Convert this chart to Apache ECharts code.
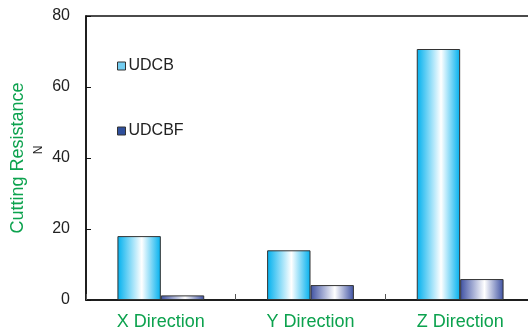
<!DOCTYPE html>
<html>
<head>
<meta charset="utf-8">
<script src="https://cdn.jsdelivr.net/npm/echarts@6/dist/echarts.min.js"></script>
<style>
  html, body { margin: 0; padding: 0; background: #fff; }
  #chart { width: 528px; height: 331px; }
</style>
</head>
<body>
<div id="chart"></div>
<script>
// Cutting resistance (N) per machining direction
const categories = ['X Direction', 'Y Direction', 'Z Direction'];
const seriesNames = ['UDCB', 'UDCBF'];
const udcbValues = [18, 14, 70.7];
const udcbfValues = [1.3, 4.2, 5.9];
const yTicks = [0, 20, 40, 60, 80];

const FONT = '"Liberation Sans", Arial, Helvetica, sans-serif';
const GREEN = '#0ca24e';

function sideGradient(edge) {
  return new echarts.graphic.LinearGradient(0, 0, 1, 0, [
    { offset: 0, color: edge },
    { offset: 0.56, color: '#ffffff' },
    { offset: 1, color: edge }
  ]);
}

const chart = echarts.init(document.getElementById('chart'), null, { renderer: 'canvas' });

chart.setOption({
  animation: false,
  backgroundColor: '#ffffff',
  textStyle: { fontFamily: FONT },
  grid: {
    left: 86, top: 16, bottom: 31, right: -7,
    outerBoundsMode: 'none',
    containLabel: false,
    show: true, borderColor: '#111', borderWidth: 1.5, backgroundColor: 'transparent'
  },
  legend: {
    orient: 'vertical',
    left: 112, top: 53,
    itemWidth: 8, itemHeight: 8, itemGap: 49,
    icon: 'rect',
    textStyle: { fontFamily: FONT, fontSize: 16, color: '#222', padding: [0, 0, 0, -2] },
    data: [
      { name: seriesNames[0], itemStyle: { color: '#74cdf0', borderColor: '#333', borderWidth: 1 } },
      { name: seriesNames[1], itemStyle: { color: '#2f4f9c', borderColor: '#333', borderWidth: 1 } }
    ]
  },
  xAxis: {
    type: 'category',
    data: categories,
    axisLine: { show: true, lineStyle: { color: '#111', width: 1.5 } },
    axisTick: { show: true, inside: true, length: 6, lineStyle: { color: '#555' } },
    axisLabel: { color: GREEN, fontSize: 18, fontFamily: FONT, margin: 13 }
  },
  yAxis: {
    type: 'value',
    min: yTicks[0], max: yTicks[yTicks.length - 1], interval: 20,
    name: 'Cutting Resistance',
    nameLocation: 'middle',
    nameGap: 59,
    nameRotate: 90,
    nameTextStyle: { color: GREEN, fontSize: 18, fontFamily: FONT },
    axisLine: { show: true, lineStyle: { color: '#111', width: 1.5 } },
    axisTick: { show: true, inside: true, length: 5, lineStyle: { color: '#111' } },
    splitLine: { show: false },
    axisLabel: { color: '#222', fontSize: 16, fontFamily: FONT, margin: 16 }
  },
  graphic: [{
    type: 'text',
    x: 39, y: 150,
    rotation: Math.PI / 2,
    style: { text: 'N', fill: '#222', fontSize: 12, fontFamily: FONT, textAlign: 'center', textVerticalAlign: 'middle' }
  }],
  series: [
    {
      name: seriesNames[0], type: 'bar', data: udcbValues,
      barGap: '0%', barCategoryGap: '42%',
      itemStyle: { color: sideGradient('#00b0ee'), borderColor: '#333', borderWidth: 1 }
    },
    {
      name: seriesNames[1], type: 'bar', data: udcbfValues,
      itemStyle: { color: sideGradient('#3d50a2'), borderColor: '#333', borderWidth: 1 }
    }
  ]
});
</script>
</body>
</html>
